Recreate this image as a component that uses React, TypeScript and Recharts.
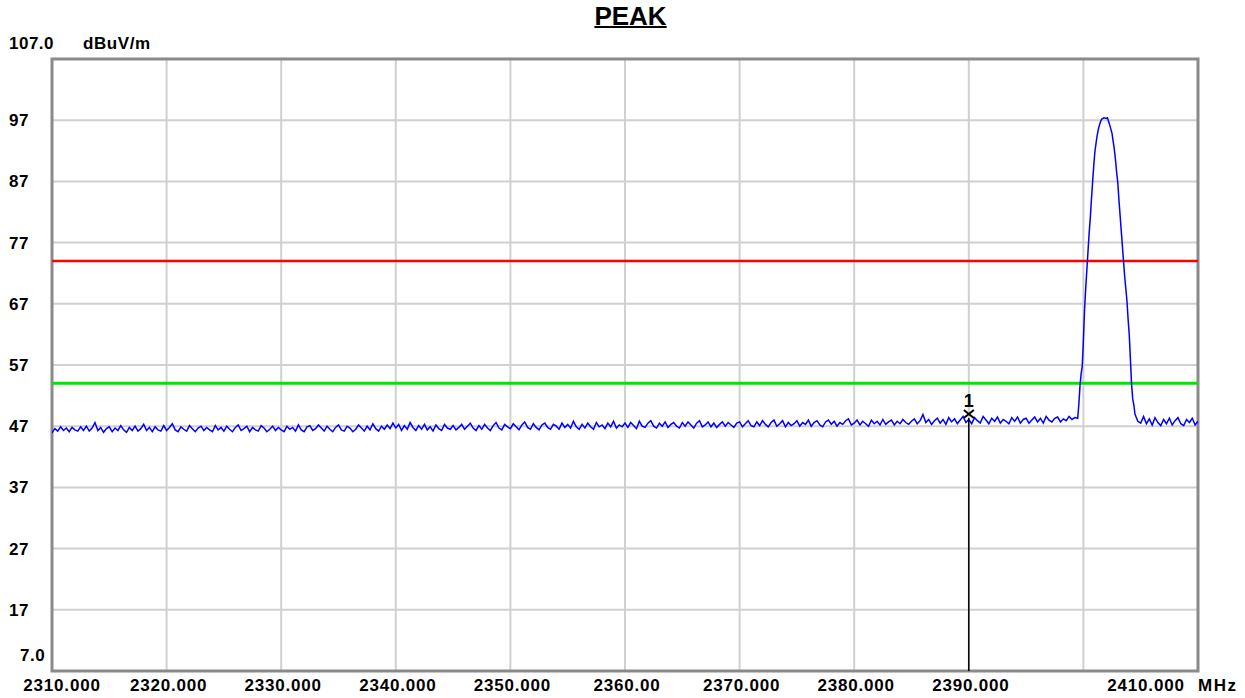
import { LineChart, Line, XAxis, YAxis, CartesianGrid, ReferenceLine, ReferenceDot, ReferenceArea } from 'recharts';

// sweep grid of the analyser (MHz)
const sweepStart = 2310;
const tailStart = 2405;
const sweepStep = 0.25;

// noise floor below the carrier, 2310 .. 2399.25 MHz
const noiseLevels = [
  45.9, 46.6, 46.2, 46.9, 46.3, 46.7, 46.1, 46.8, 46.4, 46.2, 46.9, 46.3, 47.0, 46.2, 46.7, 47.6, 46.3, 46.8, 46.0, 46.6,
  46.9, 46.1, 46.7, 46.3, 47.1, 46.4, 46.0, 46.8, 46.3, 47.0, 46.2, 46.6, 47.3, 46.3, 46.8, 46.1, 46.9, 46.4, 46.2, 47.1,
  46.3, 46.8, 47.4, 46.4, 46.1, 46.9, 46.5, 46.2, 47.1, 46.6, 46.1, 46.7, 47.0, 46.3, 46.8, 46.4, 46.1, 47.1, 46.4, 46.8,
  46.2, 47.0, 46.5, 46.1, 46.8, 47.2, 46.3, 46.6, 47.0, 46.1, 46.8, 46.4, 46.2, 47.1, 46.7, 46.1, 46.5, 47.0, 46.3, 46.8,
  46.4, 46.1, 47.0, 46.5, 46.8, 46.2, 47.2, 46.4, 46.1, 46.9, 47.1, 46.3, 46.6, 47.2, 46.7, 46.2, 47.0, 46.5, 46.1, 46.8,
  47.2, 46.4, 46.2, 47.0, 46.7, 46.1, 46.5, 47.2, 46.7, 46.2, 47.0, 46.4, 47.4, 46.6, 46.2, 47.0, 46.5, 47.2, 46.6, 47.5,
  46.7, 47.3, 46.3, 47.1, 46.5, 47.6, 46.8, 46.3, 47.1, 46.5, 47.3, 46.4, 46.9, 46.2, 47.2, 46.6, 46.3, 47.3, 46.7, 46.5,
  47.1, 46.4, 46.8, 47.3, 46.5, 47.0, 47.5, 46.7, 46.3, 47.1, 46.5, 47.3, 46.7, 46.3, 47.1, 47.6, 46.7, 46.4, 47.3, 46.9,
  46.6, 47.4, 46.9, 46.4, 47.2, 47.7, 46.8, 46.5, 47.4, 46.8, 46.4, 47.2, 47.5, 46.8, 46.5, 47.3, 47.0, 46.5, 47.5, 46.8,
  47.3, 46.7, 47.8, 46.9, 46.5, 47.3, 46.7, 47.5, 46.9, 46.5, 47.6, 46.9, 47.2, 46.6, 47.5, 46.9, 47.8, 46.7, 47.2, 46.9,
  47.5, 46.8, 47.6, 47.1, 46.6, 47.8, 47.0, 46.8, 47.5, 47.9, 47.0, 46.7, 47.5, 47.0, 47.7, 46.8, 47.3, 47.6, 47.0, 46.7,
  47.6, 47.0, 47.7, 47.2, 46.7, 47.5, 47.9, 46.9, 47.2, 47.7, 46.9, 47.5, 46.8, 47.3, 47.7, 47.0, 47.6, 47.2, 46.8, 47.5,
  47.7, 46.9, 47.4, 47.9, 47.1, 46.9, 47.7, 47.1, 47.9, 47.3, 46.9, 47.6, 48.0, 47.0, 47.4, 47.9, 46.9, 47.6, 47.1, 47.4,
  47.9, 47.0, 47.6, 47.3, 48.0, 47.0, 47.6, 47.9, 47.2, 46.9, 47.7, 48.0, 47.3, 47.8, 47.0, 47.6, 47.3, 47.9, 48.2, 47.2,
  47.5, 48.0, 47.2, 47.8, 47.4, 47.0, 48.0, 47.4, 47.8, 47.2, 48.1, 47.3, 47.7, 48.0, 47.2, 47.8, 47.4, 48.1, 47.6, 47.3,
  47.8, 48.2, 47.4, 47.9, 48.9, 47.6, 48.1, 47.3, 47.9, 48.3, 47.5, 48.1, 47.3, 48.4, 47.7, 48.2, 47.4, 48.0, 48.6, 47.6,
  48.1, 47.4, 48.4, 47.9, 47.5, 48.6, 48.0, 47.4, 48.3, 47.8, 48.5, 47.5, 48.1, 47.8, 47.4, 48.4, 47.8, 48.5, 47.5, 48.1,
  48.3, 47.5, 48.0, 48.5, 47.7, 48.3, 47.5, 48.6, 48.0, 47.7, 48.3, 48.5, 47.7, 48.2, 47.9, 48.6, 48.1, 48.4,
];

// carrier around 2402 MHz
const peakFreqs = [
  2399.5, 2399.6, 2399.7, 2399.8, 2399.9, 2400.0, 2400.1, 2400.2, 2400.3, 2400.4, 2400.5, 2400.6, 2400.7, 2400.8,
  2400.9, 2401.0, 2401.1, 2401.2, 2401.3, 2401.4, 2401.5, 2401.6, 2401.8, 2402.0, 2402.1, 2402.2, 2402.3, 2402.4,
  2402.5, 2402.6, 2402.7, 2402.8, 2402.9, 2403.0, 2403.1, 2403.2, 2403.3, 2403.4, 2403.5, 2403.6, 2403.7, 2403.8,
  2403.9, 2404.0, 2404.1, 2404.2, 2404.3, 2404.4, 2404.5, 2404.6, 2404.75,
];
const peakLevels = [
  48.3, 50.5, 53.5, 55.5, 56.8, 61.0, 66.0, 69.5, 72.5, 75.5, 78.5, 81.0, 84.0, 86.8,
  89.5, 91.8, 93.2, 94.5, 95.5, 96.2, 96.8, 97.2, 97.4, 97.3, 97.4, 96.8, 96.2, 95.5,
  94.8, 93.5, 92.2, 90.5, 88.5, 86.8, 84.0, 81.5, 79.0, 76.5, 74.0, 71.5, 69.5, 67.5,
  64.5, 62.0, 58.0, 54.0, 51.5, 50.5, 49.0, 48.5, 47.8,
];

// noise floor above the carrier, 2405 .. 2410 MHz
const tailLevels = [
  47.5, 48.6, 47.4, 48.2, 47.2, 48.4, 47.6, 47.1, 48.1, 47.4, 48.3, 47.2, 47.9, 48.4, 47.4, 47.1, 48.1, 47.6, 48.3, 47.2, 47.8,
];

const limitPeak = 74;
const limitAvg = 54;
const markerFreq = 2390;
const markerLevel = 49.0;

const xTicks = [2310, 2320, 2330, 2340, 2350, 2360, 2370, 2380, 2390, 2400, 2410];
const xTickLabels = ['2310.000', '2320.000', '2330.000', '2340.000', '2350.000', '2360.00', '2370.000', '2380.000', '2390.000', '', '2410.000'];
const yTicks = [7, 17, 27, 37, 47, 57, 67, 77, 87, 97, 107];
const yTickLabels = ['7.0', '17', '27', '37', '47', '57', '67', '77', '87', '97', '107.0'];

const trace = [
  ...noiseLevels.map((v, i) => ({ f: sweepStart + i * sweepStep, v })),
  ...peakFreqs.map((f, i) => ({ f, v: peakLevels[i] })),
  ...tailLevels.map((v, i) => ({ f: tailStart + i * sweepStep, v })),
];

const font = '"Liberation Sans", Arial, sans-serif';

const XTick = (props: any) => {
  const { x, payload } = props;
  const idx = xTicks.indexOf(payload.value);
  const label = xTickLabels[idx] ?? '';
  let dx = 2;
  if (payload.value === 2310) dx = 10;
  if (payload.value === 2410) dx = -52;
  return (
    <g>
      <text x={x + dx} y={691} textAnchor="middle" fontSize={17} fontWeight="bold" fontFamily={font} fill="#000" letterSpacing={0.8}>
        {label}
      </text>
      {payload.value === 2410 && (
        <text x={x} y={691} textAnchor="start" fontSize={17} fontWeight="bold" fontFamily={font} fill="#000" letterSpacing={1.5}>
          MHz
        </text>
      )}
    </g>
  );
};

const YTick = (props: any) => {
  const { y, payload } = props;
  const idx = yTicks.indexOf(payload.value);
  const label = yTickLabels[idx] ?? '';
  let ty = y + 6;
  let tx = 9;
  if (payload.value === 107) ty = y - 10;
  if (payload.value === 7) {
    ty = y - 10;
    tx = 20;
  }
  return (
    <g>
      <text x={tx} y={ty} textAnchor="start" fontSize={17} fontWeight="bold" fontFamily={font} fill="#000" letterSpacing={0.5}>
        {label}
      </text>
      {payload.value === 107 && (
        <text x={83} y={ty} textAnchor="start" fontSize={17} fontWeight="bold" fontFamily={font} fill="#000" letterSpacing={0.6}>
          dBuV/m
        </text>
      )}
    </g>
  );
};

const MarkerShape = (props: any) => {
  const { cx, cy } = props;
  return (
    <g>
      <line x1={cx} y1={cy + 4} x2={cx} y2={671} stroke="#000" strokeWidth={1.5} />
      <line x1={cx - 5} y1={cy - 4} x2={cx + 5} y2={cy + 4} stroke="#000" strokeWidth={2} />
      <line x1={cx - 5} y1={cy + 4} x2={cx + 5} y2={cy - 4} stroke="#000" strokeWidth={2} />
      <text x={cx} y={cy - 7} textAnchor="middle" fontSize={18} fontWeight="bold" fontFamily={font} fill="#000">
        1
      </text>
    </g>
  );
};

export default function App() {
  return (
    <div style={{ position: 'absolute', left: 0, top: 0, width: 1245, height: 698, background: '#fff' }}>
      <div
        style={{
          position: 'absolute',
          left: 0,
          width: 1261,
          top: 1,
          textAlign: 'center',
          fontFamily: font,
          fontWeight: 'bold',
          fontSize: 26,
          textDecoration: 'underline',
          textDecorationThickness: 2,
          lineHeight: '30px',
          color: '#000',
        }}
      >
        PEAK
      </div>
      <LineChart width={1245} height={698} data={trace} margin={{ top: 59, right: 47, bottom: 0, left: 0 }}>
        <CartesianGrid stroke="#d0d0d0" strokeWidth={2} />
        <XAxis
          dataKey="f"
          type="number"
          domain={[2310, 2410]}
          ticks={xTicks}
          tick={<XTick />}
          axisLine={false}
          tickLine={false}
          height={27}
          interval={0}
          allowDataOverflow
        />
        <YAxis
          type="number"
          domain={[7, 107]}
          ticks={yTicks}
          tick={<YTick />}
          axisLine={false}
          tickLine={false}
          width={52}
          interval={0}
          allowDataOverflow
        />
        <ReferenceLine y={limitPeak} stroke="#ff0000" strokeWidth={2.5} />
        <ReferenceLine y={limitAvg} stroke="#00e600" strokeWidth={3} />
        <Line type="linear" dataKey="v" stroke="#0000ff" strokeWidth={1.5} dot={false} isAnimationActive={false} />
        <ReferenceArea x1={2310} x2={2410} y1={7} y2={107} fill="none" stroke="#8a8a8a" strokeWidth={3} ifOverflow="visible" />
        <ReferenceDot x={markerFreq} y={markerLevel} shape={<MarkerShape />} ifOverflow="visible" />
      </LineChart>
    </div>
  );
}
